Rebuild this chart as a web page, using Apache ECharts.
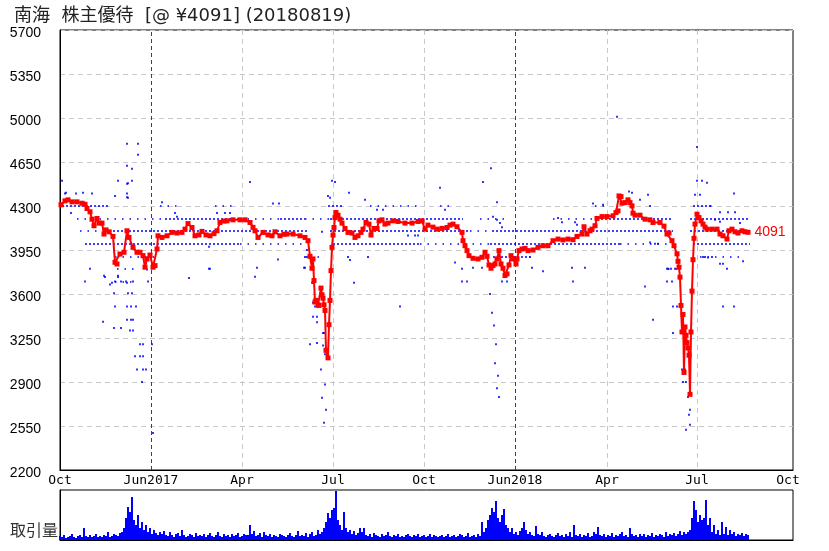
<!DOCTYPE html>
<html><head><meta charset="utf-8">
<script src="https://cdn.jsdelivr.net/npm/echarts@6/dist/echarts.min.js"></script>
<style>html,body{margin:0;padding:0;background:#fff}#c{width:829px;height:551px}</style>
</head><body><div id="c"></div>
<script>
// ---- data ----
const titleText = '南海  株主優待  [@ ¥4091] (20180819)';
const volumeLabel = '取引量';
const dayCount = 734;                // day 0 = start of axis (Oct 2016)
const tickDays   = [0, 91, 182, 273, 364, 455, 547, 637, 728];
const tickLabels = ['Oct', 'Jun2017', 'Apr', 'Jul', 'Oct', 'Jun2018', 'Apr', 'Jul', 'Oct'];
const redGridDays = [91, 455];
const greyGridDays = [182, 273, 364, 547, 637];
const yMin = 2200, yMax = 5700, yStep = 350;

// closing price (day index, price)
const priceDays = [1,5,8,12,17,22,25,27,30,32,34,37,39,42,44,46,49,53,55,57,60,64,67,69,73,77,80,83,85,87,90,93,95,97,98,102,107,112,117,122,125,128,132,135,139,142,146,150,154,157,160,164,167,173,180,185,190,193,195,198,203,208,212,215,220,224,227,233,240,245,248,250,252,253,254,255,256,258,259,261,262,263,264,265,266,268,269,270,271,272,273,274,275,276,278,280,282,285,288,292,295,298,301,303,306,309,311,314,317,319,322,325,328,333,338,345,352,358,362,365,368,373,377,382,387,390,393,397,402,403,405,407,409,413,418,422,425,427,429,431,433,435,437,439,441,443,445,447,449,451,453,456,457,459,462,465,468,473,478,483,488,493,498,503,508,513,517,522,524,527,530,532,535,537,542,547,553,556,558,559,561,562,565,568,570,572,573,575,580,585,590,593,600,604,607,609,612,614,617,618,619,620,621,622,623,624,625,626,627,628,629,630,631,632,633,634,635,637,639,641,643,645,647,652,657,660,663,667,669,672,675,678,682,685,688];
const prices = [4310,4341,4349,4333,4333,4322,4314,4280,4254,4195,4143,4201,4164,4164,4077,4110,4095,4058,3852,3839,3918,3932,4103,4050,3971,3932,3932,3905,3813,3879,3910,3813,3826,3958,4063,4050,4063,4090,4085,4090,4116,4160,4129,4063,4070,4098,4070,4063,4080,4103,4169,4180,4182,4190,4190,4190,4169,4130,4103,4050,4090,4070,4063,4095,4063,4075,4077,4077,4063,4050,4024,3900,3805,3879,3707,3536,3549,3514,3509,3647,3594,3567,3514,3469,3152,3092,3356,3549,3786,3971,4069,4129,4208,4248,4227,4195,4164,4121,4090,4085,4050,4063,4090,4116,4169,4156,4069,4121,4121,4182,4190,4156,4164,4182,4177,4164,4164,4177,4182,4116,4148,4132,4116,4122,4129,4148,4156,4135,4090,4024,3984,3945,3905,3884,3879,3892,3932,3900,3831,3805,3826,3839,3879,3945,3839,3805,3747,3760,3831,3905,3879,3839,3879,3945,3958,3963,3945,3950,3971,3984,3984,4024,4037,4030,4037,4032,4058,4077,4135,4077,4103,4116,4143,4201,4216,4216,4222,4248,4261,4380,4375,4322,4327,4349,4327,4301,4243,4227,4227,4195,4190,4169,4169,4140,4077,4085,4024,3984,3920,3860,3813,3734,3509,3298,3437,2976,3338,3271,3213,3171,3113,2802,3298,3623,3873,4043,4156,4235,4208,4182,4156,4132,4116,4116,4116,4077,4063,4037,4103,4116,4095,4085,4103,4095,4091];

// blue order levels: [price, fromDay, toDay]
const blueDenseRuns = [
  [4300,2,50],[4300,268,283],[4300,633,652],
  [4200,105,180],[4200,220,245],[4200,270,403],[4200,537,613],[4200,630,690],
  [4100,53,248],[4100,270,410],[4100,432,613],[4100,630,690],
  [4000,25,180],[4000,273,360],[4000,430,560],[4000,633,690],
  [3900,433,470]
];
const blueSparseRuns = [
  [4300,100,120],[4300,155,172],[4300,310,360],[4300,380,395],[4300,535,550],[4300,650,655],
  [4200,17,105],[4200,180,220],[4200,245,270],[4200,420,450],[4200,493,537],
  [4100,20,53],[4100,410,432],
  [4000,180,245],[4000,360,430],[4000,560,607],
  [3900,55,100],[3900,250,260],[3900,640,680],
  [3800,57,77],[3800,608,620],[3700,55,75]
];
// isolated blue trades
const blueDotDays = [2,6,16,23,32,55,58,67,78,78,67,72,67,67,68,25,44,50,55,61,66,73,58,54,68,72,55,67,71,76,43,67,71,73,54,61,70,73,80,83,92,75,80,83,77,83,86,82,93,88,87,
  272,275,268,270,289,305,245,247,245,252,253,253,255,257,253,257,257,263,264,250,257,263,265,267,288,290,308,294,340,261,265,262,266,264,
  430,432,434,436,435,438,437,439,431,
  637,642,647,635,640,613,617,622,625,623,626,628,630,629,608,611,615,607,612,585,593,613,645,648,660,663,667,663,674,683,674,660,668,675,557,637,626,630,
  5,68,72,67,11,30,45,58,52,67,129,149,102,115,117,157,165,170,149,
  190,213,219,150,197,195,218,244,247,262,
  317,323,380,385,423,433,437,440,348,355,358,
  437,442,395,402,413,422,470,472,483,512,525,513,498,502,515,517,543,442,447,402,407,
  533,569,572,588,580,590,590,595,598,607,655,660,680,643,652];
const blueDotPrices = [4500,4405,4400,4405,4400,4380,4500,4795,4795,4707,4620,4596,4477,4400,4365,3700,3745,3675,3700,3700,3700,3700,3745,3605,3605,3605,3500,3500,3500,3500,3380,3395,3395,3395,3330,3330,3310,3310,3200,3200,3200,3105,3105,3105,3000,3000,3000,2900,2495,3700,3795,
  4500,4490,4380,4365,4405,4350,3895,3895,3808,3690,3690,3530,3500,3500,3420,3420,3375,3290,3290,3200,3210,3190,3120,3110,3895,3870,3895,3690,3500,3000,2880,2775,2680,2575,
  3600,3450,3350,3200,3050,2950,2850,2780,4600,
  4500,4500,4485,4390,4390,3500,3500,3000,3000,2900,2900,2780,2680,2640,3800,3800,3800,3700,3700,3660,3395,3290,3895,3890,3840,3840,3800,3500,3500,3860,4400,4250,4250,4250,5010,4770,2520,2560,
  4400,4480,4500,4370,4245,3800,3735,3735,3690,3690,3727,3800,4330,4245,4215,4245,4245,4245,3975,
  4490,4320,4320,3800,3808,3737,3875,3808,3950,4095,
  4270,4270,4445,4270,4490,4215,4190,4165,4065,4065,4065,
  4330,4130,3850,3800,3808,3808,3895,3808,3780,3808,3808,3700,4205,4170,4170,4150,4310,3700,3700,3700,3700,
  4320,4415,4405,4390,4350,4300,4010,4000,4000,3800,4190,4175,4165,3895,3895];

// daily volume (every 2nd day from day 0)
const volumeStep = 2;
const volume = [
  4,3,5,2,3,4,6,3,2,4,5,3,12,4,3,5,3,4,6,3,4,
  3,5,4,8,3,4,6,5,4,7,
  8,12,22,33,28,43,20,15,25,12,18,10,15,8,12,6,10,7,5,8,
  6,9,5,4,8,5,3,6,7,4,10,5,3,4,6,5,3,7,4,5,
  4,6,3,5,7,4,3,5,8,4,3,6,4,5,3,6,4,5,7,3,4,6,5,5,15,
  6,9,4,5,7,3,8,5,4,6,3,5,4,3,6,5,4,3,5,7,4,3,5,9,4,
  5,4,7,3,6,8,4,5,10,6,
  8,12,18,27,22,30,32,49,20,15,10,28,12,8,10,6,9,5,7,12,
  8,12,5,4,6,3,7,5,4,3,6,4,5,8,4,3,5,4,6,3,
  4,3,5,6,4,3,5,4,6,3,4,5,3,4,6,3,5,4,3,4,
  5,3,4,6,3,4,5,3,4,6,5,3,4,7,3,4,5,3,6,
  4,18,8,12,20,25,32,28,39,22,18,25,31,15,12,8,12,6,8,5,9,
  12,18,10,6,8,5,4,14,6,5,8,4,3,5,6,4,3,5,7,4,
  5,3,6,4,8,3,15,5,4,6,3,5,4,7,3,4,8,6,13,5,
  4,6,3,5,4,7,3,5,4,6,8,4,5,3,12,6,4,5,3,6,
  4,6,3,5,4,7,3,5,4,6,5,3,8,4,6,5,7,4,6,9,5,8,6,8,10,
  22,39,30,18,25,20,22,40,15,22,8,15,6,10,5,18,6,13,5,10,6,8,4,6,5,7,4,6,5
];
const volumeMax = 50;

// ---- build ----
const cats = [];
for (let i = 0; i < dayCount; i++) {
  const d = new Date(2016, 9, 1 + i);
  cats.push(d.getFullYear() + '-' + (d.getMonth() + 1) + '-' + d.getDate());
}
const labelAt = {}; tickDays.forEach((d, i) => labelAt[d] = tickLabels[i]);
const greySet = new Set(greyGridDays);

const redData = priceDays.map((d, i) => [d, prices[i]]);
const last = redData.length - 1;
redData[last] = {
  value: redData[last],
  label: { show: true, position: 'right', distance: 4, color: '#ff0000',
           fontFamily: 'Liberation Sans', fontSize: 14, formatter: p => p.value[1] }
};
const runData = runs => runs.map(r => ({ coords: [[r[1], r[0]], [r[2], r[0]]] }));
const dotData = blueDotDays.map((d, i) => [d, blueDotPrices[i]]);
const volData = volume.map((v, i) => [i * volumeStep, v]);

const chart = echarts.init(document.getElementById('c'), null, { renderer: 'canvas' });
chart.setOption({
  animation: false,
  backgroundColor: '#fff',
  title: { text: titleText, left: 9, top: 2,
    textStyle: { fontFamily: '"DejaVu Sans", "Noto Sans CJK JP"', fontSize: 18, fontWeight: 'normal', color: '#222' } },
  graphic: [{ type: 'text', left: 10, top: 522,
    style: { text: volumeLabel, font: '16px "Noto Sans CJK JP"', fill: '#333' } }],
  grid: [
    { left: 60, top: 30, width: 733, height: 440, show: true, borderColor: '#000', borderWidth: 1 },
    { left: 60, top: 490, width: 733, height: 50, show: true, borderColor: '#000', borderWidth: 1 }
  ],
  xAxis: [
    { type: 'category', gridIndex: 0, data: cats, boundaryGap: false,
      axisLine: { lineStyle: { color: '#000', width: 1 } }, axisTick: { show: false },
      axisLabel: { interval: i => labelAt[i] !== undefined, formatter: (v, i) => labelAt[i] || '',
        fontFamily: 'DejaVu Sans Mono', fontSize: 13, color: '#000', margin: 4 },
      splitLine: { show: true, interval: i => greySet.has(i),
        lineStyle: { color: '#c8c8c8', type: [5, 4], width: 1 } } },
    { type: 'category', gridIndex: 1, data: cats, boundaryGap: false,
      axisLine: { lineStyle: { color: '#000' } }, axisTick: { show: false },
      axisLabel: { show: false }, splitLine: { show: false } }
  ],
  yAxis: [
    { type: 'value', gridIndex: 0, min: yMin, max: yMax, interval: yStep,
      axisLine: { show: true, lineStyle: { color: '#000' } }, axisTick: { show: false },
      axisLabel: { color: '#000', margin: 19, formatter: v => '{n|' + v + '}',
        rich: { n: { fontFamily: 'Liberation Sans', fontSize: 14, color: '#000', padding: [6, 0, 0, 0] } } },
      splitLine: { show: true, lineStyle: { color: '#c8c8c8', type: [5, 4], width: 1 } } },
    { type: 'value', gridIndex: 1, min: 0, max: volumeMax,
      axisLine: { show: true, lineStyle: { color: '#000' } }, axisTick: { show: false },
      axisLabel: { show: false }, splitLine: { show: false } }
  ],
  series: [
    { type: 'lines', coordinateSystem: 'cartesian2d', xAxisIndex: 0, yAxisIndex: 0, silent: true, z: 2,
      lineStyle: { color: '#0000ff', width: 1.5, type: [2, 2], opacity: 1 }, data: runData(blueDenseRuns) },
    { type: 'lines', coordinateSystem: 'cartesian2d', xAxisIndex: 0, yAxisIndex: 0, silent: true, z: 2,
      lineStyle: { color: '#0000ff', width: 1.5, type: [1.5, 6], opacity: 1 }, data: runData(blueSparseRuns) },
    { type: 'scatter', xAxisIndex: 0, yAxisIndex: 0, silent: true, z: 2,
      symbol: 'rect', symbolSize: 2, itemStyle: { color: '#0000ff' }, data: dotData },
    { type: 'line', xAxisIndex: 0, yAxisIndex: 0, z: 5, data: redData,
      symbol: 'rect', symbolSize: 5, showAllSymbol: true,
      lineStyle: { color: '#ff0000', width: 2 }, itemStyle: { color: '#ff0000' },
      markLine: { silent: true, symbol: ['none', 'none'], label: { show: false }, z: 1,
        lineStyle: { color: '#dd0000', type: [4, 3], width: 1 },
        data: redGridDays.map(d => ({ xAxis: cats[d] })) } },
    { type: 'bar', xAxisIndex: 1, yAxisIndex: 1, data: volData, barWidth: 2,
      itemStyle: { color: '#0000ff' }, silent: true }
  ]
});
</script></body></html>
